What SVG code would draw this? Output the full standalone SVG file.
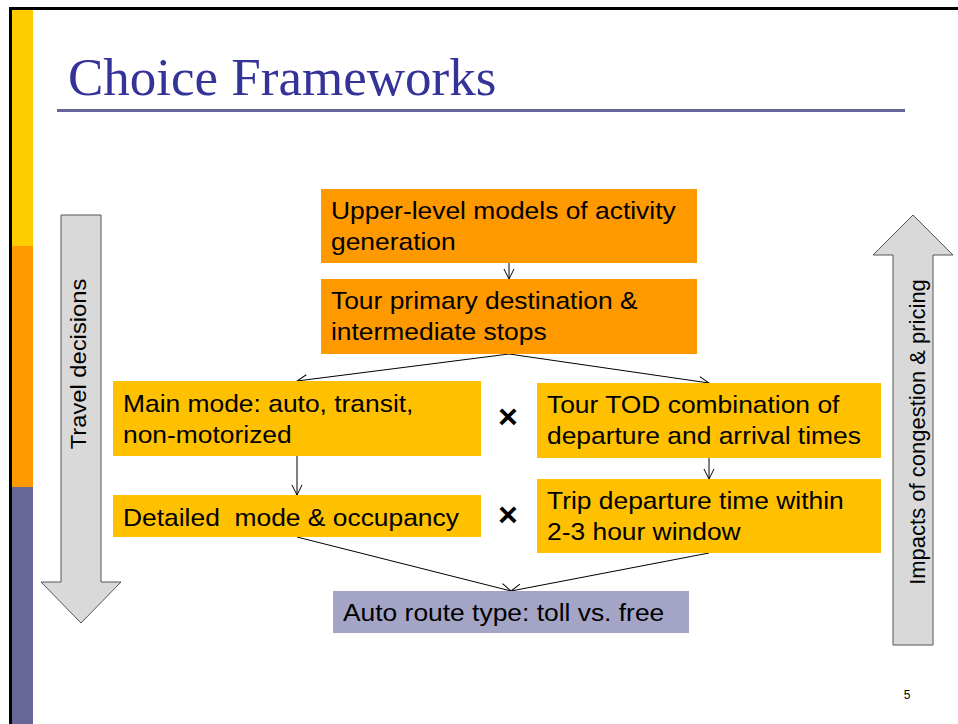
<svg xmlns="http://www.w3.org/2000/svg" width="958" height="724" viewBox="0 0 958 724">
<defs>
<style>
.t{font-family:"Liberation Sans",Arial,sans-serif;font-size:24px;fill:#000}
.v{font-family:"Liberation Sans",Arial,sans-serif;font-size:22px;fill:#000}
.title{font-family:"Liberation Serif","Times New Roman",serif;font-size:53px;fill:#333399}
.x{font-family:"Liberation Sans",Arial,sans-serif;font-size:34px;font-weight:bold;fill:#000}
.c{stroke:#000;stroke-width:1;fill:none}
.big{fill:#D9D9D9;stroke:#555;stroke-width:1}
</style>
<marker id="ah" markerWidth="12" markerHeight="12" viewBox="0 0 12 12" refX="11" refY="6" orient="auto" markerUnits="userSpaceOnUse">
<path d="M1,1 L11,6 L1,11" fill="none" stroke="#000" stroke-width="1"/>
</marker>
</defs>
<rect width="958" height="724" fill="#fff"/>
<g id="frame">
<rect x="9" y="7" width="949" height="3" fill="#000"/>
<rect x="9" y="7" width="3" height="717" fill="#000"/>
<rect x="12" y="10" width="21" height="236" fill="#FFCC00"/>
<rect x="12" y="246" width="21" height="241" fill="#FF9900"/>
<rect x="12" y="487" width="21" height="237" fill="#666699"/>
</g>
<g id="title">
<text class="title" x="68" y="95">Choice Frameworks</text>
<rect x="57" y="109" width="848" height="3" fill="#666699"/>
</g>
<g id="travel-decisions">
<polygon class="big" points="61,215 101,215 101,582 121,582 81,623 41,582 61,582"/>
<text class="v" transform="translate(86,364) rotate(-90) scale(1.08,1)" text-anchor="middle">Travel decisions</text>
</g>
<g id="impacts">
<polygon class="big" points="913,215 953,255 933,255 933,645 893,645 893,255 873,255"/>
<text class="v" transform="translate(925,432) rotate(-90)" text-anchor="middle">Impacts of congestion &amp; pricing</text>
</g>
<g id="connectors">
<line class="c" x1="509" y1="263" x2="509" y2="279" marker-end="url(#ah)"/>
<line class="c" x1="509" y1="354" x2="297" y2="381" marker-end="url(#ah)"/>
<line class="c" x1="509" y1="354" x2="709" y2="383" marker-end="url(#ah)"/>
<line class="c" x1="297" y1="456" x2="297" y2="495" marker-end="url(#ah)"/>
<line class="c" x1="709" y1="458" x2="709" y2="479" marker-end="url(#ah)"/>
<line class="c" x1="297" y1="537" x2="511" y2="591" marker-end="url(#ah)"/>
<line class="c" x1="709" y1="553" x2="511" y2="591" marker-end="url(#ah)"/>
</g>
<g id="upper-level">
<rect x="321" y="189" width="376" height="74" fill="#FF9900"/>
<text class="t" transform="translate(331,219) scale(1.1,1)">Upper-level models of activity</text>
<text class="t" transform="translate(331,250) scale(1.1,1)">generation</text>
</g>
<g id="tour-primary">
<rect x="321" y="279" width="376" height="75" fill="#FF9900"/>
<text class="t" transform="translate(331,309) scale(1.1,1)">Tour primary destination &amp;</text>
<text class="t" transform="translate(331,340) scale(1.1,1)">intermediate stops</text>
</g>
<g id="main-mode">
<rect x="113" y="381" width="368" height="75" fill="#FFC000"/>
<text class="t" transform="translate(123,412) scale(1.1,1)">Main mode: auto, transit,</text>
<text class="t" transform="translate(123,443) scale(1.1,1)">non-motorized</text>
</g>
<g id="tour-tod">
<rect x="537" y="383" width="344" height="75" fill="#FFC000"/>
<text class="t" transform="translate(547,413) scale(1.1,1)">Tour TOD combination of</text>
<text class="t" transform="translate(547,444) scale(1.1,1)">departure and arrival times</text>
</g>
<g id="detailed-mode">
<rect x="113" y="495" width="368" height="42" fill="#FFC000"/>
<text class="t" transform="translate(123,526) scale(1.1,1)" xml:space="preserve">Detailed  mode &amp; occupancy</text>
</g>
<g id="trip-departure">
<rect x="537" y="479" width="344" height="74" fill="#FFC000"/>
<text class="t" transform="translate(547,509) scale(1.1,1)">Trip departure time within</text>
<text class="t" transform="translate(547,540) scale(1.1,1)">2-3 hour window</text>
</g>
<g id="auto-route">
<rect x="333" y="591" width="356" height="42" fill="#A4A5C6"/>
<text class="t" transform="translate(343,621) scale(1.1,1)">Auto route type: toll vs. free</text>
</g>
<g id="times-marks">
<text class="x" x="508" y="428" text-anchor="middle">×</text>
<text class="x" x="508" y="526" text-anchor="middle">×</text>
</g>
<text x="907" y="699" text-anchor="middle" style="font-family:'Liberation Sans',Arial,sans-serif;font-size:12px">5</text>
</svg>
